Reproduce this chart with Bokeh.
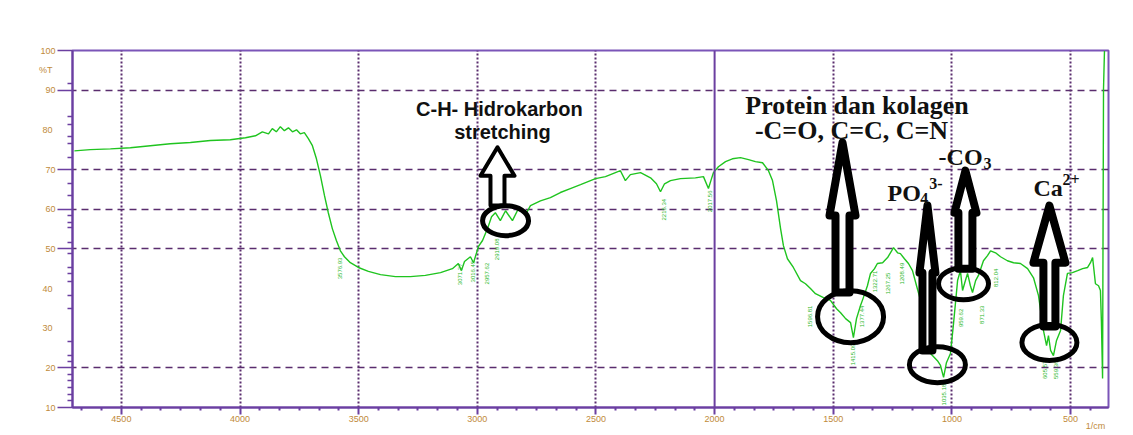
import numpy as np
from bokeh.plotting import figure
from bokeh.models import Range1d, FixedTicker, Span, Label, LinearAxis, ColumnDataSource
from bokeh.core.properties import value
from bokeh.embed import file_html
from bokeh.resources import INLINE

# FTIR spectrum: wavenumber (1/cm) against transmittance (%T)
wavenumber = [
    4698, 4631, 4546, 4462, 4378, 4294, 4209, 4125, 4041, 3977,
    3935, 3906, 3880, 3864, 3847, 3830, 3813, 3796, 3779, 3762,
    3746, 3729, 3712, 3695, 3678, 3661, 3644, 3628, 3611, 3594,
    3577, 3560, 3535, 3501, 3459, 3408, 3345, 3282, 3219, 3155,
    3105, 3080, 3067, 3054, 3029, 3016, 2995, 2978, 2957, 2940,
    2924, 2903, 2881, 2852, 2827, 2797, 2776, 2734, 2692, 2650,
    2608, 2565, 2502, 2460, 2418, 2397, 2376, 2355, 2312, 2270,
    2245, 2228, 2211, 2186, 2144, 2081, 2047, 2026, 2013, 2005,
    1984, 1954, 1925, 1891, 1857, 1828, 1798, 1773, 1756, 1739,
    1722, 1710, 1693, 1668, 1638, 1617, 1596, 1575, 1541, 1512,
    1486, 1469, 1448, 1427, 1415, 1402, 1385, 1373, 1356, 1343,
    1326, 1314, 1292, 1271, 1259, 1246, 1229, 1217, 1200, 1183,
    1166, 1149, 1132, 1115, 1103, 1082, 1061, 1048, 1035, 1023,
    1006, 993, 976, 964, 955, 943, 934, 922, 913, 900,
    888, 867, 850, 837, 816, 795, 766, 740, 711, 681,
    656, 635, 614, 601, 593, 584, 572, 559, 542, 530,
    513, 492, 470, 449, 428, 416, 407, 395, 382, 374,
    370, 365, 361, 357,
]
transmittance = [
    74.7, 75.0, 75.2, 75.5, 76.0, 76.5, 76.8, 77.3, 77.5, 78.0,
    78.5, 79.5, 79.0, 80.3, 79.5, 80.8, 79.8, 80.5, 79.5, 80.0,
    79.0, 79.3, 77.8, 76.0, 72.7, 68.4, 63.4, 59.1, 55.1, 52.1,
    49.5, 48.0, 46.5, 45.3, 44.3, 43.5, 43.0, 43.0, 43.3, 44.0,
    45.0, 46.3, 44.5, 46.8, 48.0, 46.5, 50.6, 52.1, 55.1, 58.1,
    59.1, 57.1, 59.6, 57.1, 60.1, 58.6, 60.9, 62.1, 62.9, 64.2,
    65.2, 66.2, 67.7, 68.2, 69.2, 69.7, 67.2, 68.7, 69.2, 67.9,
    66.4, 64.4, 66.4, 67.2, 67.7, 67.9, 68.2, 65.2, 67.7, 69.2,
    70.7, 72.0, 72.7, 73.0, 72.5, 72.0, 71.7, 69.7, 67.2, 62.1,
    55.1, 50.8, 47.5, 45.3, 42.0, 41.2, 40.0, 38.7, 37.7, 37.0,
    34.9, 33.9, 32.4, 31.4, 27.6, 32.4, 35.7, 37.7, 40.7, 43.8,
    45.0, 46.3, 46.5, 47.8, 49.0, 50.3, 49.0, 48.8, 47.5, 46.3,
    44.5, 40.7, 37.0, 29.4, 24.4, 23.1, 21.8, 20.6, 17.6, 21.3,
    23.6, 31.2, 42.0, 44.5, 39.5, 42.0, 43.8, 40.7, 39.0, 42.0,
    43.3, 47.0, 48.3, 49.5, 49.0, 48.0, 47.0, 46.5, 46.3, 45.0,
    42.7, 38.2, 29.4, 25.6, 28.1, 24.4, 23.1, 26.9, 29.4, 38.2,
    43.8, 44.0, 44.5, 45.0, 45.3, 46.5, 47.8, 41.2, 40.7, 39.5,
    31.9, 17.3, 90.4, 99.9,
]

# Peak-picking labels (wavenumber printed, %T where the label starts)
peak_wavenumber = [3576.93, 3071.27, 3016.45, 2957.62, 2919.08, 2215.34, 2017.56,
                   1596.81, 1415.09, 1377.44, 1322.71, 1267.25, 1208.49, 1035.18,
                   959.62, 871.33, 812.04, 605.57, 559.36]
peak_label_T = [47.8, 46.3, 47.0, 46.5, 52.6, 62.6, 64.7,
                35.7, 26.1, 35.7, 44.5, 44.0, 46.5, 16.0,
                34.9, 35.7, 45.0, 21.8, 21.8]

# Axis ticks
x_major = [4500, 4000, 3500, 3000, 2500, 2000, 1500, 1000, 500]
x_grid_dotted = [4500, 4000, 3500, 3000, 2500, 1500, 1000, 500]
x_split = 2000
x_unit_pos = 395
y_long_ticks = [10, 20, 50, 60, 70, 90, 100]
y_plain_labels = [30, 40, 80]
y_unit_pos = 95
y_grid = [20, 50, 60, 70, 90]
y_minor = [91.6, 83.3, 81.3, 78.3, 76.5, 73.0, 66.4, 63.4, 58.4, 56.6, 55.3, 51.6,
           48.8, 45.3, 43.8, 41.7, 38.2, 34.9, 26.6, 23.1, 21.6, 18.3, 16.8, 15.0,
           13.3, 11.8]

# Band assignments: arrow centre, tip / head / foot (%T), ring centre
band_wavenumber = [2915, 1461, 1103, 943, 589]
arrow_tip_T = [75.6, 76.8, 60.9, 69.7, 60.9]
arrow_head_T = [68.4, 58.4, 44.0, 59.1, 46.5]
arrow_foot_T = [60.9, 39.0, 24.4, 45.0, 30.4]
ring_wavenumber = [2881, 1427, 1061, 951, 589]
ring_T = [57.1, 32.9, 20.8, 41.2, 26.4]

X_START, X_END = 4706, 340
Y_MIN, Y_MAX = 10, 100
W, H = 1133, 435
LEFT, RIGHT, TOP, BOTTOM = 72, 25, 50, 28
frame_w = W - LEFT - RIGHT
wn_per_px = (X_START - X_END) / frame_w

PURPLE = "#6b3fa0"
GRID = "#5a2d6e"
TICK_TXT = "#c08a3a"
GREEN = "#1fc41f"

p = figure(width=W, height=H, output_backend="svg", toolbar_location=None,
           x_range=Range1d(X_START, X_END), y_range=Range1d(Y_MIN, Y_MAX),
           min_border_left=LEFT, min_border_right=RIGHT,
           min_border_top=TOP, min_border_bottom=BOTTOM,
           background_fill_color="white", border_fill_color="white")
p.outline_line_color = "#7b55b8"
p.outline_line_width = 2
xa = p.xaxis[0]
ya = p.yaxis[0]

# grid
p.xgrid.ticker = FixedTicker(ticks=x_grid_dotted)
p.xgrid.grid_line_color = GRID
p.xgrid.grid_line_dash = "2 2"
p.xgrid.grid_line_width = 2
p.ygrid.ticker = FixedTicker(ticks=y_grid)
p.ygrid.grid_line_color = GRID
p.ygrid.grid_line_dash = "7 5"
p.ygrid.grid_line_width = 1.5
p.add_layout(Span(location=x_split, dimension="height", line_color=PURPLE, line_width=2))


def style_ticks(ax):
    ax.axis_line_color = PURPLE
    ax.axis_line_width = 2
    ax.major_tick_line_color = PURPLE
    ax.minor_tick_line_color = PURPLE
    ax.major_tick_in = 0
    ax.minor_tick_in = 0
    ax.major_label_text_color = TICK_TXT
    ax.major_label_text_font = "Liberation Sans"
    ax.major_label_text_font_size = "9px"


# x axis
x_minor = [500 + k * 500 / 6 for k in range(-1, 52) if k % 6 != 0]
x_minor = [v for v in x_minor if X_END < v < X_START]
xa.ticker = FixedTicker(ticks=x_major, minor_ticks=x_minor)
style_ticks(xa)
xa.major_tick_out = 7
xa.major_tick_line_width = 2
xa.minor_tick_out = 3
xa.minor_tick_line_width = 2
xa.major_label_standoff = 1

# unit caption under the right end of the x axis
xu = LinearAxis(ticker=FixedTicker(ticks=[x_unit_pos]),
                major_label_overrides={x_unit_pos: "1/cm"})
style_ticks(xu)
xu.axis_line_alpha = 0
xu.major_tick_out = 0
xu.minor_tick_out = 0
xu.major_label_standoff = -4
p.add_layout(xu, "below")

# y axis: long ticks with labels, short minor ticks
ya.ticker = FixedTicker(ticks=y_long_ticks, minor_ticks=y_minor)
style_ticks(ya)
ya.major_tick_out = 15
ya.major_tick_line_width = 1.5
ya.minor_tick_out = 5
ya.minor_tick_line_width = 1.5
ya.major_label_standoff = 2

# remaining labels (no long tick) pulled back in line with the others
yl = LinearAxis(ticker=FixedTicker(ticks=y_plain_labels + [y_unit_pos]),
                major_label_overrides={y_unit_pos: "%T"})
style_ticks(yl)
yl.axis_line_alpha = 0
yl.major_tick_out = 0
yl.minor_tick_out = 0
yl.major_label_standoff = -15
p.add_layout(yl, "left")

# spectrum
p.line(wavenumber, transmittance, line_color=GREEN, line_width=1.4)

# peak labels
p.text(x=peak_wavenumber, y=peak_label_T, text=[f"{w:.2f}" for w in peak_wavenumber],
       angle=np.pi / 2, text_align="right", text_baseline="middle",
       text_color="#2cb82c", text_font=value("Liberation Sans"), text_font_size="6px")

# band arrows (outlined, white inside)
head_half_px = [17, 13, 8, 11, 16]
shaft_half_px = [7, 7, 5, 7, 6]
arrow_lw = [4, 8, 8, 8, 8]
xs, ys = [], []
for c, tip, head, foot, hh, sh in zip(band_wavenumber, arrow_tip_T, arrow_head_T,
                                       arrow_foot_T, head_half_px, shaft_half_px):
    hw = hh * wn_per_px
    sw = sh * wn_per_px
    xs.append([c, c - hw, c - sw, c - sw, c + sw, c + sw, c + hw])
    ys.append([tip, head, head, foot, foot, head, head])
arrows = ColumnDataSource(dict(xs=xs, ys=ys, lw=arrow_lw))
p.patches("xs", "ys", source=arrows, fill_color="white", line_color="black",
          line_width="lw", line_join="round")

# rings around the bands
ring_w_px = [46, 66, 56, 50, 55]
ring_h_px = [30, 52, 36, 32, 36]
p.ellipse(x=ring_wavenumber, y=ring_T, width=ring_w_px, height=ring_h_px,
          width_units="screen", height_units="screen",
          fill_alpha=0, line_color="black", line_width=5)


# band captions
def caption(x, y, text, size, font, align="center"):
    p.add_layout(Label(x=x, y=y, text=text, text_align=align, text_baseline="middle",
                       text_font=font, text_font_size=size, text_font_style="bold",
                       text_color="#111111"))


caption(2907, 85.3, "C-H- Hidrokarbon", "20px", "Liberation Sans")
caption(2894, 79.5, "stretching", "20px", "Liberation Sans")
caption(1400, 86.1, "Protein dan kolagen", "26px", "Liberation Serif")
caption(1423, 79.8, "-C=O, C=C, C=N", "26px", "Liberation Serif")
caption(1271, 64.2, "PO", "24px", "Liberation Serif", "left")
caption(1133, 62.8, "4", "16px", "Liberation Serif", "left")
caption(1095, 66.4, "3-", "16px", "Liberation Serif", "left")
caption(1056, 73.2, "-CO", "24px", "Liberation Serif", "left")
caption(867, 71.6, "3", "16px", "Liberation Serif", "left")
caption(656, 65.4, "Ca", "24px", "Liberation Serif", "left")
caption(534, 67.4, "2+", "16px", "Liberation Serif", "left")

open("out.html", "w").write(file_html(p, INLINE))
